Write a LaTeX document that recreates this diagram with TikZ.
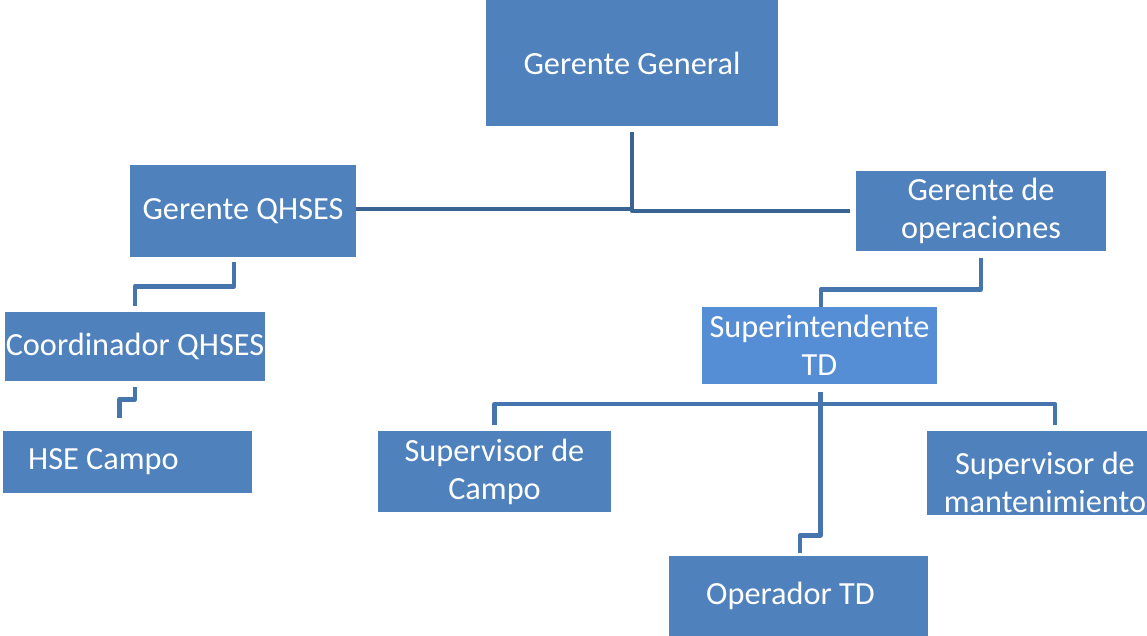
\documentclass[tikz,border=0pt]{standalone}
\usepackage{fontspec}
\setmainfont{Carlito}
\definecolor{boxblue}{HTML}{4F81BD}
\definecolor{boxlight}{HTML}{558ED5}
\definecolor{lineDark}{HTML}{3A6592}
\definecolor{lineMid}{HTML}{4674AC}
\begin{document}
\begin{tikzpicture}[x=1pt,y=-1pt,
  box/.style={fill=boxblue, draw=none, inner sep=0pt, text=white, align=center,
    font=\fontsize{32.3}{38}\selectfont},
  lbl/.style={text=white, inner sep=0pt, align=center, font=\fontsize{32.3}{38}\selectfont},
  conn/.style={draw=lineMid, line width=4.6pt, line join=round},
  conntop/.style={draw=lineDark, line width=4.6pt, line join=round}]
\useasboundingbox (0,0) rectangle (1147,636);

\node[box, minimum width=292pt, minimum height=126pt] (gg) at (632,63) {Gerente General};
\node[box, minimum width=226pt, minimum height=92pt] (gq) at (243,211) {Gerente QHSES};
\node[box, minimum width=250pt, minimum height=80pt] (go) at (981,211) {Gerente de\\operaciones};
\node[box, minimum width=260pt, minimum height=69pt] (cq) at (135,346.5) {Coordinador QHSES};
\node[box, minimum width=249pt, minimum height=62pt,
  label={[lbl, xshift=-24pt]center:HSE Campo}] (hse) at (127.5,462) {};
\node[box, fill=boxlight, minimum width=235pt, minimum height=77pt] (st) at (819.5,345.5) {Superintendente\\TD};
\node[box, minimum width=233pt, minimum height=81pt] (sc) at (494.5,471.5) {Supervisor de\\Campo};
\node[box, minimum width=220pt, minimum height=84pt,
  label={[lbl, xshift=8pt, yshift=-9pt]center:{Supervisor de\\mantenimiento}}] (sm) at (1037,473) {};
\node[box, minimum width=259pt, minimum height=80pt,
  label={[lbl, xshift=-8pt]center:Operador TD}] (op) at (798.5,596) {};

% Gerente General
\draw[conntop, shorten <=6pt, shorten >=6pt] (gg.south) |- (go.west);
\draw[conntop] ([yshift=2pt]gq.east) -- ([yshift=2pt]gq.east -| gg.south);

% QHSES branch
\draw[conn, shorten <=5pt, shorten >=6pt] ([xshift=-9pt]gq.south) -- ++(0,29) -| (cq.north);
\draw[conn, shorten <=6pt, shorten >=13pt] (cq.south) -- ++(0,18) -| ([xshift=-8pt]hse.north);

% Operaciones branch
\draw[conn, shorten <=7pt] (go.south) -- ++(0,38) -| ([xshift=1.5pt]st.north);

% Superintendente branch
\coordinate (bus) at (820,404);
\draw[conn, shorten <=6pt] (sc.north) |- (bus);
\draw[conn, shorten >=6pt] (bus) -| ([xshift=18pt]sm.north);
\draw[conn, shorten <=8pt, shorten >=3pt] ([xshift=1pt]st.south) -- ++(0,151) -| ([xshift=1.5pt]op.north);
\end{tikzpicture}
\end{document}
